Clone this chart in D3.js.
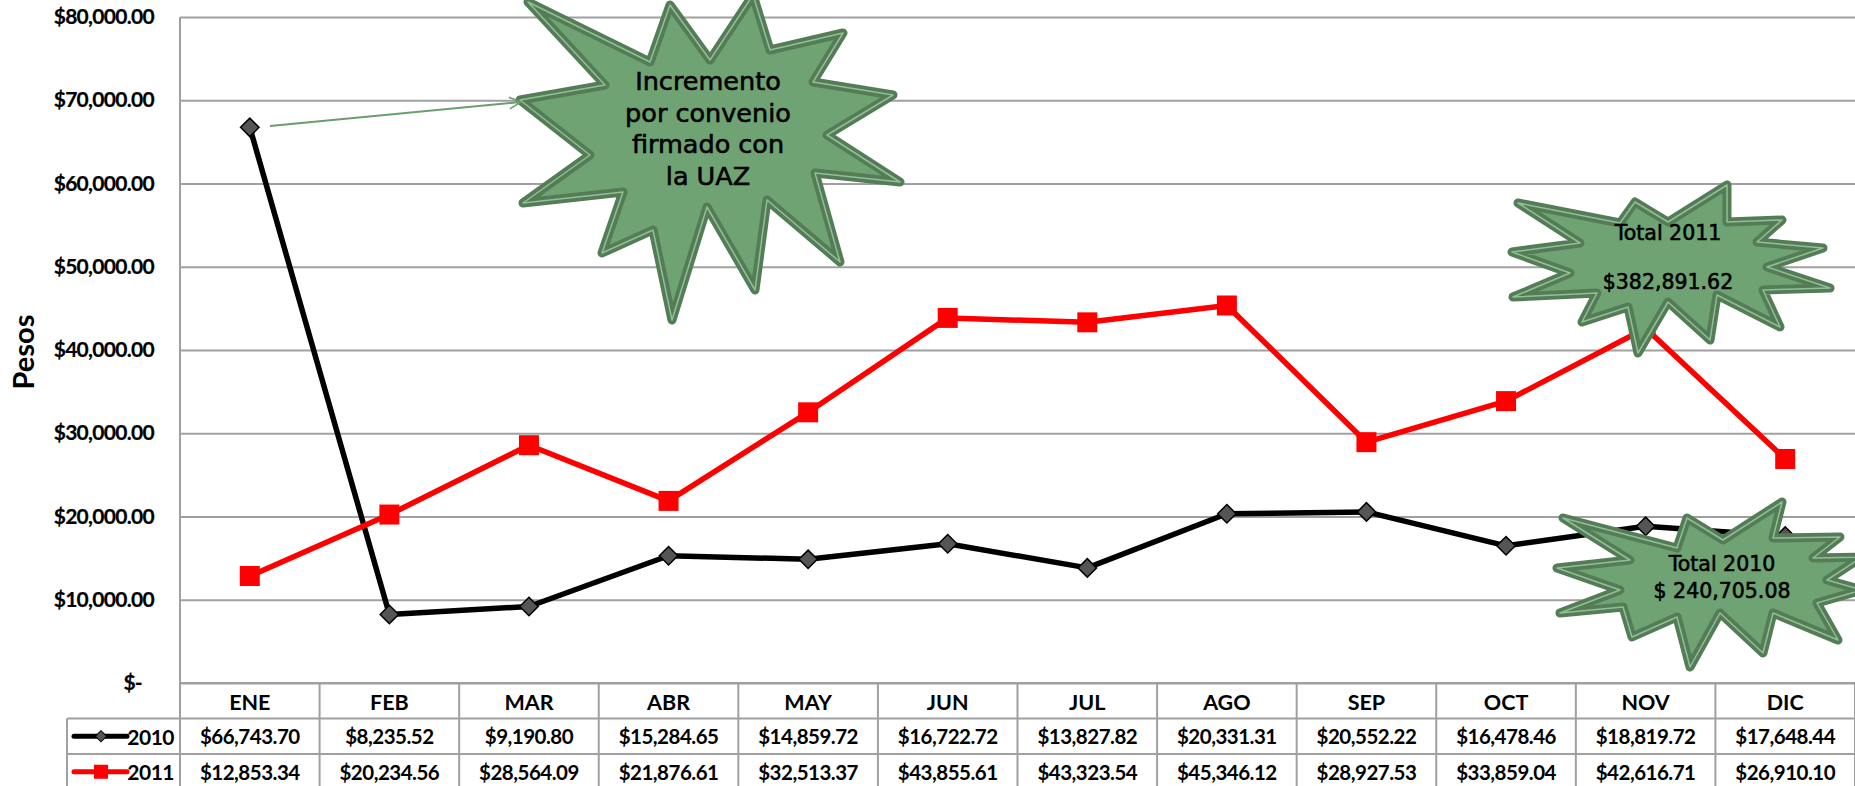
<!DOCTYPE html>
<html>
<head>
<meta charset="utf-8">
<script src="https://cdn.jsdelivr.net/npm/d3@7"></script>
<style>
  html, body { margin: 0; padding: 0; background: #fff; }
  svg { display: block; }
</style>
</head>
<body>
<script>
// ---- data ----
const months = ["ENE","FEB","MAR","ABR","MAY","JUN","JUL","AGO","SEP","OCT","NOV","DIC"];
const values2010 = [66743.70, 8235.52, 9190.80, 15284.65, 14859.72, 16722.72, 13827.82, 20331.31, 20552.22, 16478.46, 18819.72, 17648.44];
const values2011 = [12853.34, 20234.56, 28564.09, 21876.61, 32513.37, 43855.61, 43323.54, 45346.12, 28927.53, 33859.04, 42616.71, 26910.10];
const seriesNames = ["2010", "2011"];
const yTicks = [0, 10000, 20000, 30000, 40000, 50000, 60000, 70000, 80000];
const yTitle = "Pesos";
const noteIncremento = ["Incremento", "por convenio", "firmado con", "la UAZ"];
const noteTotal2011 = ["Total 2011", "$382,891.62"];
const noteTotal2010 = ["Total 2010", "$ 240,705.08"];

// ---- layout ----
const W = 1855, H = 786;
const plotL = 180, plotR = 1855, plotT = 17, plotB = 683;
const rowH = 35.5;
const legendL = 67;

const svg = d3.select("body").append("svg").attr("width", W).attr("height", H);

const x = d3.scaleBand().domain(months).range([plotL, plotR]).padding(0);
const y = d3.scaleLinear().domain([0, 80000]).range([plotB, plotT]);
const cx = m => x(m) + x.bandwidth() / 2;

const fmtMoney = d3.format("$,.2f");
const grid = "#a0a0a0";

// gridlines + y labels
const yAxis = d3.axisLeft(y).tickValues(yTicks).tickSize(-(plotR - plotL)).tickPadding(26)
  .tickFormat(d => d === 0 ? "$-" : fmtMoney(d));
const gy = svg.append("g").attr("transform", `translate(${plotL},0)`).call(yAxis);
gy.select(".domain").remove();
gy.selectAll(".tick line").attr("stroke", grid).attr("stroke-width", 2);
gy.selectAll(".tick text")
  .attr("font-family", "Lato, sans-serif").attr("font-weight", "bold").attr("font-size", 21)
  .attr("letter-spacing", "-0.7").attr("fill", "#000").attr("stroke", "#000").attr("stroke-width", 0.2)
  .attr("dx", d => d === 0 ? -12 : 0);

// y axis line (extends into table)
svg.append("line").attr("x1", plotL).attr("x2", plotL).attr("y1", plotT).attr("y2", H)
  .attr("stroke", grid).attr("stroke-width", 2);

// y title
svg.append("text").attr("transform", `translate(22,352) rotate(-90)`)
  .attr("text-anchor", "middle").attr("dominant-baseline", "central")
  .attr("font-family", "Lato, sans-serif").attr("font-weight", "bold").attr("font-size", 29)
  .text(yTitle);

// ---- data table ----
const table = svg.append("g");
const rowsY = [plotB, plotB + rowH, plotB + 2 * rowH, plotB + 3 * rowH];
table.append("line").attr("x1", plotL).attr("x2", plotR).attr("y1", rowsY[0]).attr("y2", rowsY[0]).attr("stroke", grid).attr("stroke-width", 2);
[rowsY[1], rowsY[2], rowsY[3]].forEach(yy => {
  table.append("line").attr("x1", legendL).attr("x2", plotR).attr("y1", yy).attr("y2", yy).attr("stroke", grid).attr("stroke-width", 2);
});
months.forEach(m => {
  table.append("line").attr("x1", x(m) + x.bandwidth()).attr("x2", x(m) + x.bandwidth())
    .attr("y1", plotB).attr("y2", H).attr("stroke", grid).attr("stroke-width", 2);
});
table.append("line").attr("x1", legendL).attr("x2", legendL).attr("y1", rowsY[1]).attr("y2", H).attr("stroke", grid).attr("stroke-width", 2);

const cellFont = sel => sel.attr("font-family", "Lato, sans-serif").attr("font-weight", "bold")
  .attr("font-size", 20.5).attr("letter-spacing", "-0.5").attr("fill", "#000")
  .attr("text-anchor", "middle").attr("dominant-baseline", "central");

table.selectAll("text.cat").data(months).join("text").attr("class", "cat")
  .attr("x", d => cx(d)).attr("y", rowsY[0] + rowH / 2 + 1).call(cellFont).attr("font-size", 21.5).attr("letter-spacing", "0").text(d => d);
table.selectAll("text.v2010").data(values2010).join("text").attr("class", "v2010")
  .attr("x", (d, i) => cx(months[i])).attr("y", rowsY[1] + rowH / 2).call(cellFont).text(d => fmtMoney(d));
table.selectAll("text.v2011").data(values2011).join("text").attr("class", "v2011")
  .attr("x", (d, i) => cx(months[i])).attr("y", rowsY[2] + rowH / 2).call(cellFont).text(d => fmtMoney(d));

// legend keys
const legY1 = rowsY[1] + rowH / 2, legY2 = rowsY[2] + rowH / 2;
table.append("line").attr("x1", 74).attr("x2", 127).attr("y1", legY1).attr("y2", legY1).attr("stroke", "#000").attr("stroke-width", 5).attr("stroke-linecap", "round");
table.append("path").attr("d", d3.symbol(d3.symbolSquare, 64)()).attr("transform", `translate(101,${legY1}) rotate(45)`).attr("fill", "#555").attr("stroke", "#000").attr("stroke-width", 1);
table.append("line").attr("x1", 74).attr("x2", 127).attr("y1", legY2).attr("y2", legY2).attr("stroke", "#ff0000").attr("stroke-width", 5).attr("stroke-linecap", "round");
table.append("rect").attr("x", 94).attr("y", legY2 - 7).attr("width", 14).attr("height", 14).attr("fill", "#ff0000");
table.append("text").attr("x", 174).attr("y", legY1).call(cellFont).attr("text-anchor", "end").attr("font-size", 21).text(seriesNames[0]);
table.append("text").attr("x", 174).attr("y", legY2).call(cellFont).attr("text-anchor", "end").attr("font-size", 21).text(seriesNames[1]);

// ---- lines ----
const line = d3.line().x((d, i) => cx(months[i])).y(d => y(d));
svg.append("path").datum(values2010).attr("d", line).attr("fill", "none").attr("stroke", "#000").attr("stroke-width", 5.5).attr("stroke-linejoin", "round");
svg.append("path").datum(values2011).attr("d", line).attr("fill", "none").attr("stroke", "#ff0000").attr("stroke-width", 5.5).attr("stroke-linejoin", "round");

svg.selectAll("path.dia").data(values2010).join("path").attr("class", "dia")
  .attr("d", d3.symbol(d3.symbolSquare, 170)())
  .attr("transform", (d, i) => `translate(${cx(months[i])},${y(d)}) rotate(45)`)
  .attr("fill", "#555").attr("stroke", "#000").attr("stroke-width", 1.5);
svg.selectAll("rect.sq").data(values2011).join("rect").attr("class", "sq")
  .attr("x", (d, i) => cx(months[i]) - 10).attr("y", d => y(d) - 10)
  .attr("width", 20).attr("height", 20).attr("fill", "#ff0000");

// ---- annotation shapes ----
const burst1 = [[528,2],[650,62],[670,5],[710,60],[753,-5],[770,50],[843,33],[813,82],[893,95],[827,135],[900,182],[815,173],[840,262],[767,200],[755,290],[707,207],[672,320],[653,230],[602,253],[623,192],[523,203],[590,155],[520,100],[605,85]];
const burst2 = [[1518,203],[1620,223],[1635,202],[1668,222],[1727,185],[1727,222],[1782,220],[1757,242],[1823,248],[1767,267],[1830,288],[1763,290],[1780,327],[1717,295],[1710,340],[1668,302],[1638,353],[1628,307],[1582,322],[1597,293],[1513,297],[1570,273],[1512,252],[1580,243]];
const burst3 = [[1563,518],[1677,548],[1687,518],[1723,540],[1782,502],[1773,538],[1840,537],[1813,558],[1862,557],[1827,580],[1862,590],[1817,603],[1838,640],[1773,613],[1763,653],[1720,613],[1690,667],[1677,617],[1632,637],[1623,607],[1560,613],[1620,590],[1557,568],[1630,560]];

const poly = d3.line().curve(d3.curveLinearClosed);
function burst(pts) {
  const g = svg.append("g");
  g.append("path").attr("d", poly(pts)).attr("fill", "#6fa374").attr("stroke", "#537c57").attr("stroke-width", 9).attr("stroke-linejoin", "round");
  g.append("path").attr("d", poly(pts)).attr("fill", "none").attr("stroke", "#93bf96").attr("stroke-width", 1.5).attr("stroke-linejoin", "round");
}
burst(burst1); burst(burst2); burst(burst3);

// arrow (drawn on top)
const defs = svg.append("defs");
defs.append("marker").attr("id", "arr").attr("viewBox", "0 0 12 12").attr("refX", 11).attr("refY", 6)
  .attr("markerWidth", 14).attr("markerHeight", 14).attr("orient", "auto").attr("markerUnits", "userSpaceOnUse")
  .append("path").attr("d", "M1,1 L11,6 L1,11").attr("fill", "none").attr("stroke", "#6a9e6e").attr("stroke-width", 1.3);
svg.append("line").attr("x1", 270).attr("y1", 126).attr("x2", 521).attr("y2", 102)
  .attr("stroke", "#6a9e6e").attr("stroke-width", 2).attr("marker-end", "url(#arr)");

function note(lines, cxp, y0, lh, fs) {
  const t = svg.append("text").attr("font-family", "'DejaVu Sans', sans-serif").attr("font-size", fs)
    .attr("text-anchor", "middle").attr("fill", "#000").attr("stroke", "#000").attr("stroke-width", 0.6);
  lines.forEach((l, i) => t.append("tspan").attr("x", cxp).attr("y", y0 + i * lh).attr("dominant-baseline", "central").text(l));
}
note(noteIncremento, 708, 81, 31.5, 25.5);
note(noteTotal2011, 1668, 233, 49, 20.5);
note(noteTotal2010, 1722, 564, 27, 20.5);
</script>
</body>
</html>
